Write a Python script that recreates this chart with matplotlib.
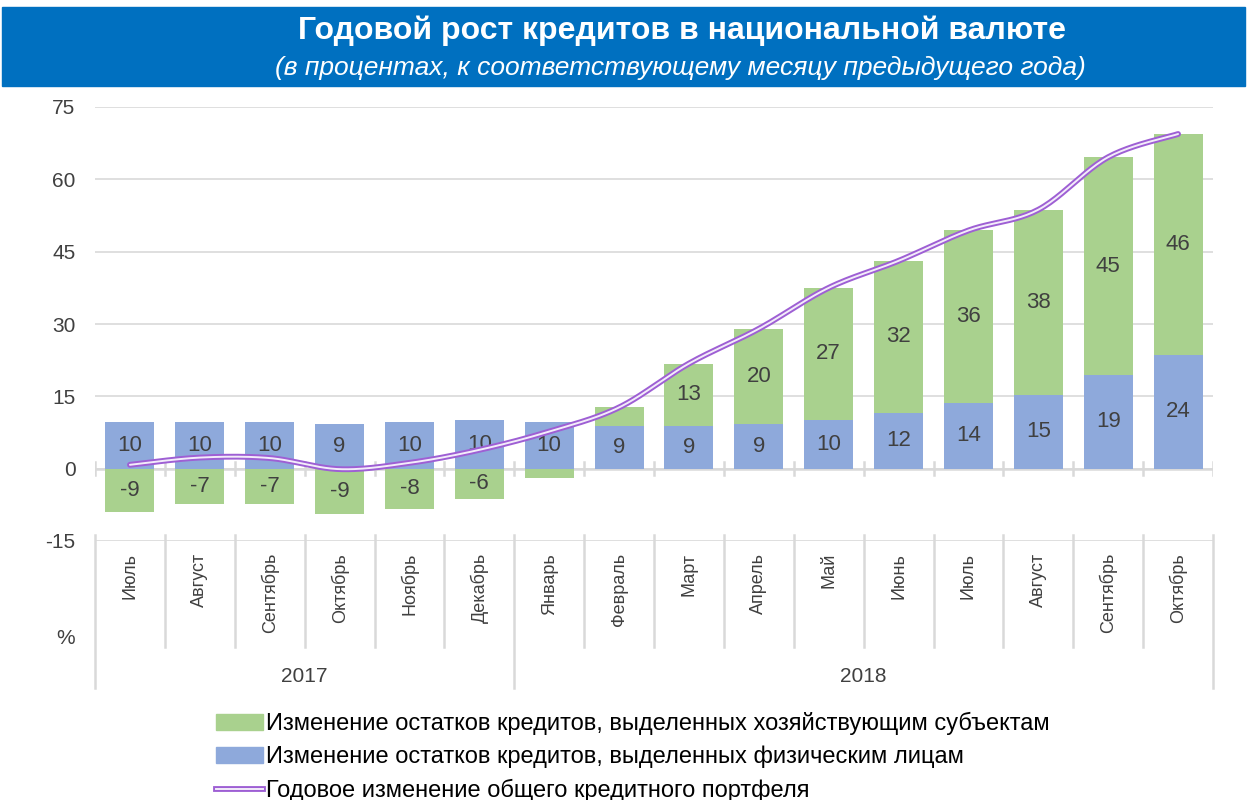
import numpy as np
import matplotlib.pyplot as plt
import matplotlib.transforms as mtransforms
import matplotlib.patheffects as pe
from matplotlib.patches import Patch, Rectangle
from matplotlib.lines import Line2D

plt.rcParams['axes.unicode_minus'] = False

# данные (в процентах)
months = ['Июль', 'Август', 'Сентябрь', 'Октябрь', 'Ноябрь', 'Декабрь',
          'Январь', 'Февраль', 'Март', 'Апрель', 'Май', 'Июнь',
          'Июль', 'Август', 'Сентябрь', 'Октябрь']
years = ['2017', '2018']
year_counts = [6, 10]
individuals = [9.7, 9.6, 9.6, 9.3, 9.6, 10.1, 9.6, 8.8, 8.8, 9.2, 10.1, 11.6, 13.7, 15.3, 19.4, 23.6]
business = [-8.9, -7.3, -7.4, -9.4, -8.4, -6.2, -1.9, 3.9, 13.0, 19.8, 27.4, 31.5, 35.7, 38.4, 45.2, 45.8]
legend_labels = ['Изменение остатков кредитов, выделенных хозяйствующим субъектам',
                 'Изменение остатков кредитов, выделенных физическим лицам',
                 'Годовое изменение общего кредитного портфеля']
title = 'Годовой рост кредитов в национальной валюте'
subtitle = '(в процентах, к соответствующему месяцу предыдущего года)'

BLUE = '#8EA9DB'
GREEN = '#A9D18E'
GRID = '#D9D9D9'
TXT = '#404040'
LINE_OUT = '#9E5FD4'
LINE_IN = '#F3ECFA'
ARIAL = ['Liberation Sans', 'DejaVu Sans']

W, H = 1249, 800


def smooth(x, y, n=25):
    # сглаживание как в Excel (Catmull-Rom -> Безье)
    x = np.asarray(x, float)
    y = np.asarray(y, float)
    px = np.concatenate([[x[0]], x, [x[-1]]])
    py = np.concatenate([[y[0]], y, [y[-1]]])
    t = np.linspace(0, 1, n)
    xs, ys = [], []
    for i in range(1, len(px) - 2):
        p0 = np.array([px[i - 1], py[i - 1]])
        p1 = np.array([px[i], py[i]])
        p2 = np.array([px[i + 1], py[i + 1]])
        p3 = np.array([px[i + 2], py[i + 2]])
        c1 = p1 + (p2 - p0) / 6
        c2 = p2 - (p3 - p1) / 6
        b = ((1 - t) ** 3)[:, None] * p1 + (3 * (1 - t) ** 2 * t)[:, None] * c1 \
            + (3 * (1 - t) * t ** 2)[:, None] * c2 + (t ** 3)[:, None] * p2
        xs.extend(b[:, 0])
        ys.extend(b[:, 1])
    return np.array(xs), np.array(ys)


fig = plt.figure(figsize=(W / 100, H / 100), dpi=100)
fig.patch.set_facecolor('white')

# синяя плашка с заголовком
fig.patches.append(Rectangle((2 / W, 1 - 86 / H), 1243 / W, 79 / H,
                             transform=fig.transFigure, color='#0070C0', zorder=0))
fig.text(682 / W, 1 - 31 / H, title, ha='center', va='center', color='white',
         fontsize=23, fontweight='bold', family=ARIAL)
fig.text(680 / W, 1 - 68 / H, subtitle, ha='center', va='center', color='white',
         fontsize=19, style='italic', family=ARIAL)

left, right, top, bottom = 95, 1213, 107, 541
ax = fig.add_axes([left / W, 1 - bottom / H, (right - left) / W, (bottom - top) / H])

x = np.arange(len(months))
ind = np.array(individuals)
bus = np.array(business)
total = ind + bus

ax.bar(x, ind, width=0.7, color=BLUE, zorder=2)
bus_bottom = np.where(bus >= 0, ind, 0)
ax.bar(x, bus, width=0.7, bottom=bus_bottom, color=GREEN, zorder=2)

for i in range(len(x)):
    ax.text(x[i], ind[i] / 2, f'{round(ind[i]):d}', ha='center', va='center',
            fontsize=16, color=TXT, family=ARIAL, zorder=4)
    if abs(bus[i]) >= 5:
        ax.text(x[i], bus_bottom[i] + bus[i] / 2, f'{round(bus[i]):d}', ha='center',
                va='center', fontsize=16, color=TXT, family=ARIAL, zorder=4)

sx, sy = smooth(x, total)
ax.plot(sx, sy, color=LINE_IN, lw=1.4, zorder=5, solid_capstyle='round',
        path_effects=[pe.Stroke(linewidth=4.2, foreground=LINE_OUT, capstyle='round'), pe.Normal()])

ax.set_xlim(-0.5, len(months) - 0.5)
ax.set_ylim(-15, 75)
ax.set_yticks(range(-15, 76, 15))
ax.set_xticks([])
ax.yaxis.grid(True, color=GRID, lw=1.2, zorder=0)
ax.set_axisbelow(True)
ax.tick_params(axis='y', length=0, pad=14, labelsize=15, labelcolor=TXT)
for lab in ax.get_yticklabels():
    lab.set_family(ARIAL)
for s in ax.spines.values():
    s.set_visible(False)

# ось на нуле с рисками
ax.axhline(0, color=GRID, lw=1.8, zorder=1)
for b in np.arange(-0.5, len(months), 1.0):
    ax.plot([b, b], [-1.3, 1.3], color=GRID, lw=1.8, zorder=1)

# подписи категорий внизу
trans = mtransforms.blended_transform_factory(ax.transData, ax.transAxes)
h = bottom - top
for i, m in enumerate(months):
    ax.text(i, -12 / h, m, rotation=90, ha='center', va='top', fontsize=13,
            color=TXT, family=ARIAL, transform=trans)
year_edges = np.concatenate([[0], np.cumsum(year_counts)]) - 0.5
for b in np.arange(-0.5, len(months), 1.0):
    y_end = -147 / h if np.any(np.isclose(year_edges, b)) else -106 / h
    ax.plot([b, b], [6 / h, y_end], color=GRID, lw=1.8, transform=trans, clip_on=False)
for j, yr in enumerate(years):
    cx = (year_edges[j] + year_edges[j + 1]) / 2
    ax.text(cx, -135 / h, yr, ha='center', va='center', fontsize=15, color=TXT,
            family=ARIAL, transform=trans)

fig.text(66 / W, 1 - 638 / H, '%', ha='center', va='center', fontsize=15,
         color=TXT, family=ARIAL)

handles = [Patch(color=GREEN), Patch(color=BLUE),
           Line2D([], [], color=LINE_IN, lw=1.4,
                  path_effects=[pe.Stroke(linewidth=4.2, foreground=LINE_OUT), pe.Normal()])]
fig.legend(handles, legend_labels, loc='upper left', bbox_to_anchor=(216 / W, 1 - 712 / H),
           frameon=False, prop={'family': ARIAL, 'size': 17}, handlelength=2.0,
           handleheight=0.65, handletextpad=0.1, labelspacing=0.45, borderaxespad=0,
           borderpad=0, labelcolor='black')

fig.savefig('out.png', dpi=100)
